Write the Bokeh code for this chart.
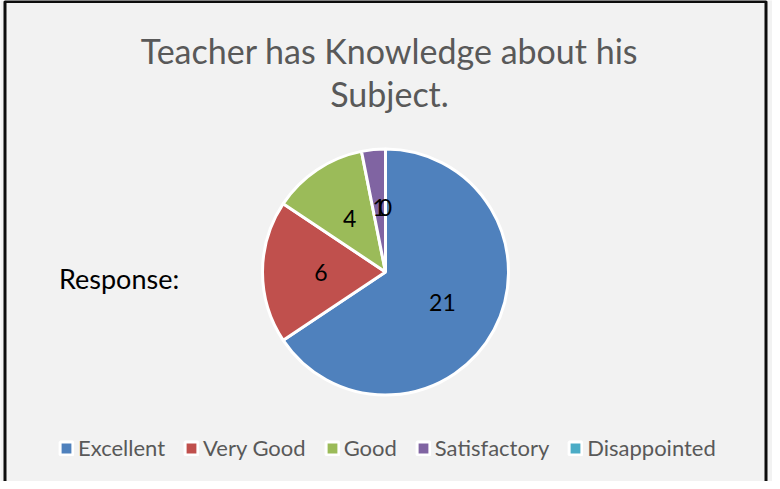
import math
from bokeh.plotting import figure
from bokeh.models import ColumnDataSource, Label, Legend, LegendItem, BoxAnnotation, Range1d
from bokeh.core.properties import value
from bokeh.embed import file_html
from bokeh.resources import INLINE

# ---- data ----
categories = ["Excellent", "Very Good", "Good", "Satisfactory", "Disappointed"]
responses = [21, 6, 4, 1, 0]
colors = ["#4F81BD", "#C0504D", "#9BBB59", "#8064A2", "#4BACC6"]
title_lines = ["Teacher has Knowledge about his", "Subject."]
side_label = "Response:"

# ---- layout ----
W, H = 772, 481
CX, CY, R = 385, 209.5, 123
LABEL_R = 64.5
FONT = "Lato"

total = float(sum(responses))
starts, ends, lx, ly, radii = [], [], [], [], []
cum = 0.0
for v in responses:
    a0 = math.pi / 2 - 2 * math.pi * cum / total
    cum += v
    a1 = math.pi / 2 - 2 * math.pi * cum / total
    starts.append(a1)
    ends.append(a0)
    radii.append(R if v > 0 else 0)
    mid = (a0 + a1) / 2
    lx.append(CX + LABEL_R * math.cos(mid))
    ly.append(CY + LABEL_R * math.sin(mid))

src = ColumnDataSource(dict(cat=categories, val=responses, color=colors,
                            start=starts, end=ends, radius=radii, lx=lx, ly=ly,
                            txt=[str(v) for v in responses]))

p = figure(width=W, height=H, output_backend="svg", toolbar_location=None,
           x_range=Range1d(0, W), y_range=Range1d(0, H),
           x_axis_location=None, y_axis_location=None,
           min_border=0, background_fill_color="#F2F2F2",
           border_fill_color="#F2F2F2", outline_line_color=None)
p.grid.visible = False

p.add_layout(BoxAnnotation(left=4.5, right=765.5, top=480, bottom=-20,
                           fill_alpha=0, line_color="#0d0d0d", line_alpha=1,
                           line_width=3, level="underlay"))

wedges = p.wedge(x=CX, y=CY, radius="radius", start_angle="start", end_angle="end",
                 direction="anticlock", fill_color="color", line_color="white",
                 line_width=3, source=src)

p.text(x="lx", y="ly", text="txt", source=src, text_align="center",
       text_baseline="middle", text_font=value(FONT), text_font_size="23px",
       text_color="black")

p.add_layout(Label(x=389, y=431.3, text=title_lines[0], text_align="center",
                   text_baseline="middle", text_font=FONT,
                   text_font_size="34px", text_color="#595959"))
p.add_layout(Label(x=389, y=387.7, text=title_lines[1], text_align="center",
                   text_baseline="middle", text_font=FONT,
                   text_font_size="34px", text_color="#595959"))
p.add_layout(Label(x=58.5, y=203.2, text=side_label, text_align="left",
                   text_baseline="middle", text_font=FONT,
                   text_font_size="27px", text_color="black"))

items = [LegendItem(label=c, renderers=[wedges], index=i) for i, c in enumerate(categories)]
legend = Legend(items=items, orientation="horizontal", location=(58, 20),
                background_fill_alpha=0, border_line_alpha=0,
                label_text_font=FONT, label_text_font_size="22px",
                label_text_color="#595959", glyph_width=16, glyph_height=16,
                label_standoff=4, spacing=18, padding=0, margin=0)
p.add_layout(legend)

open("out.html", "w").write(file_html(p, INLINE))
